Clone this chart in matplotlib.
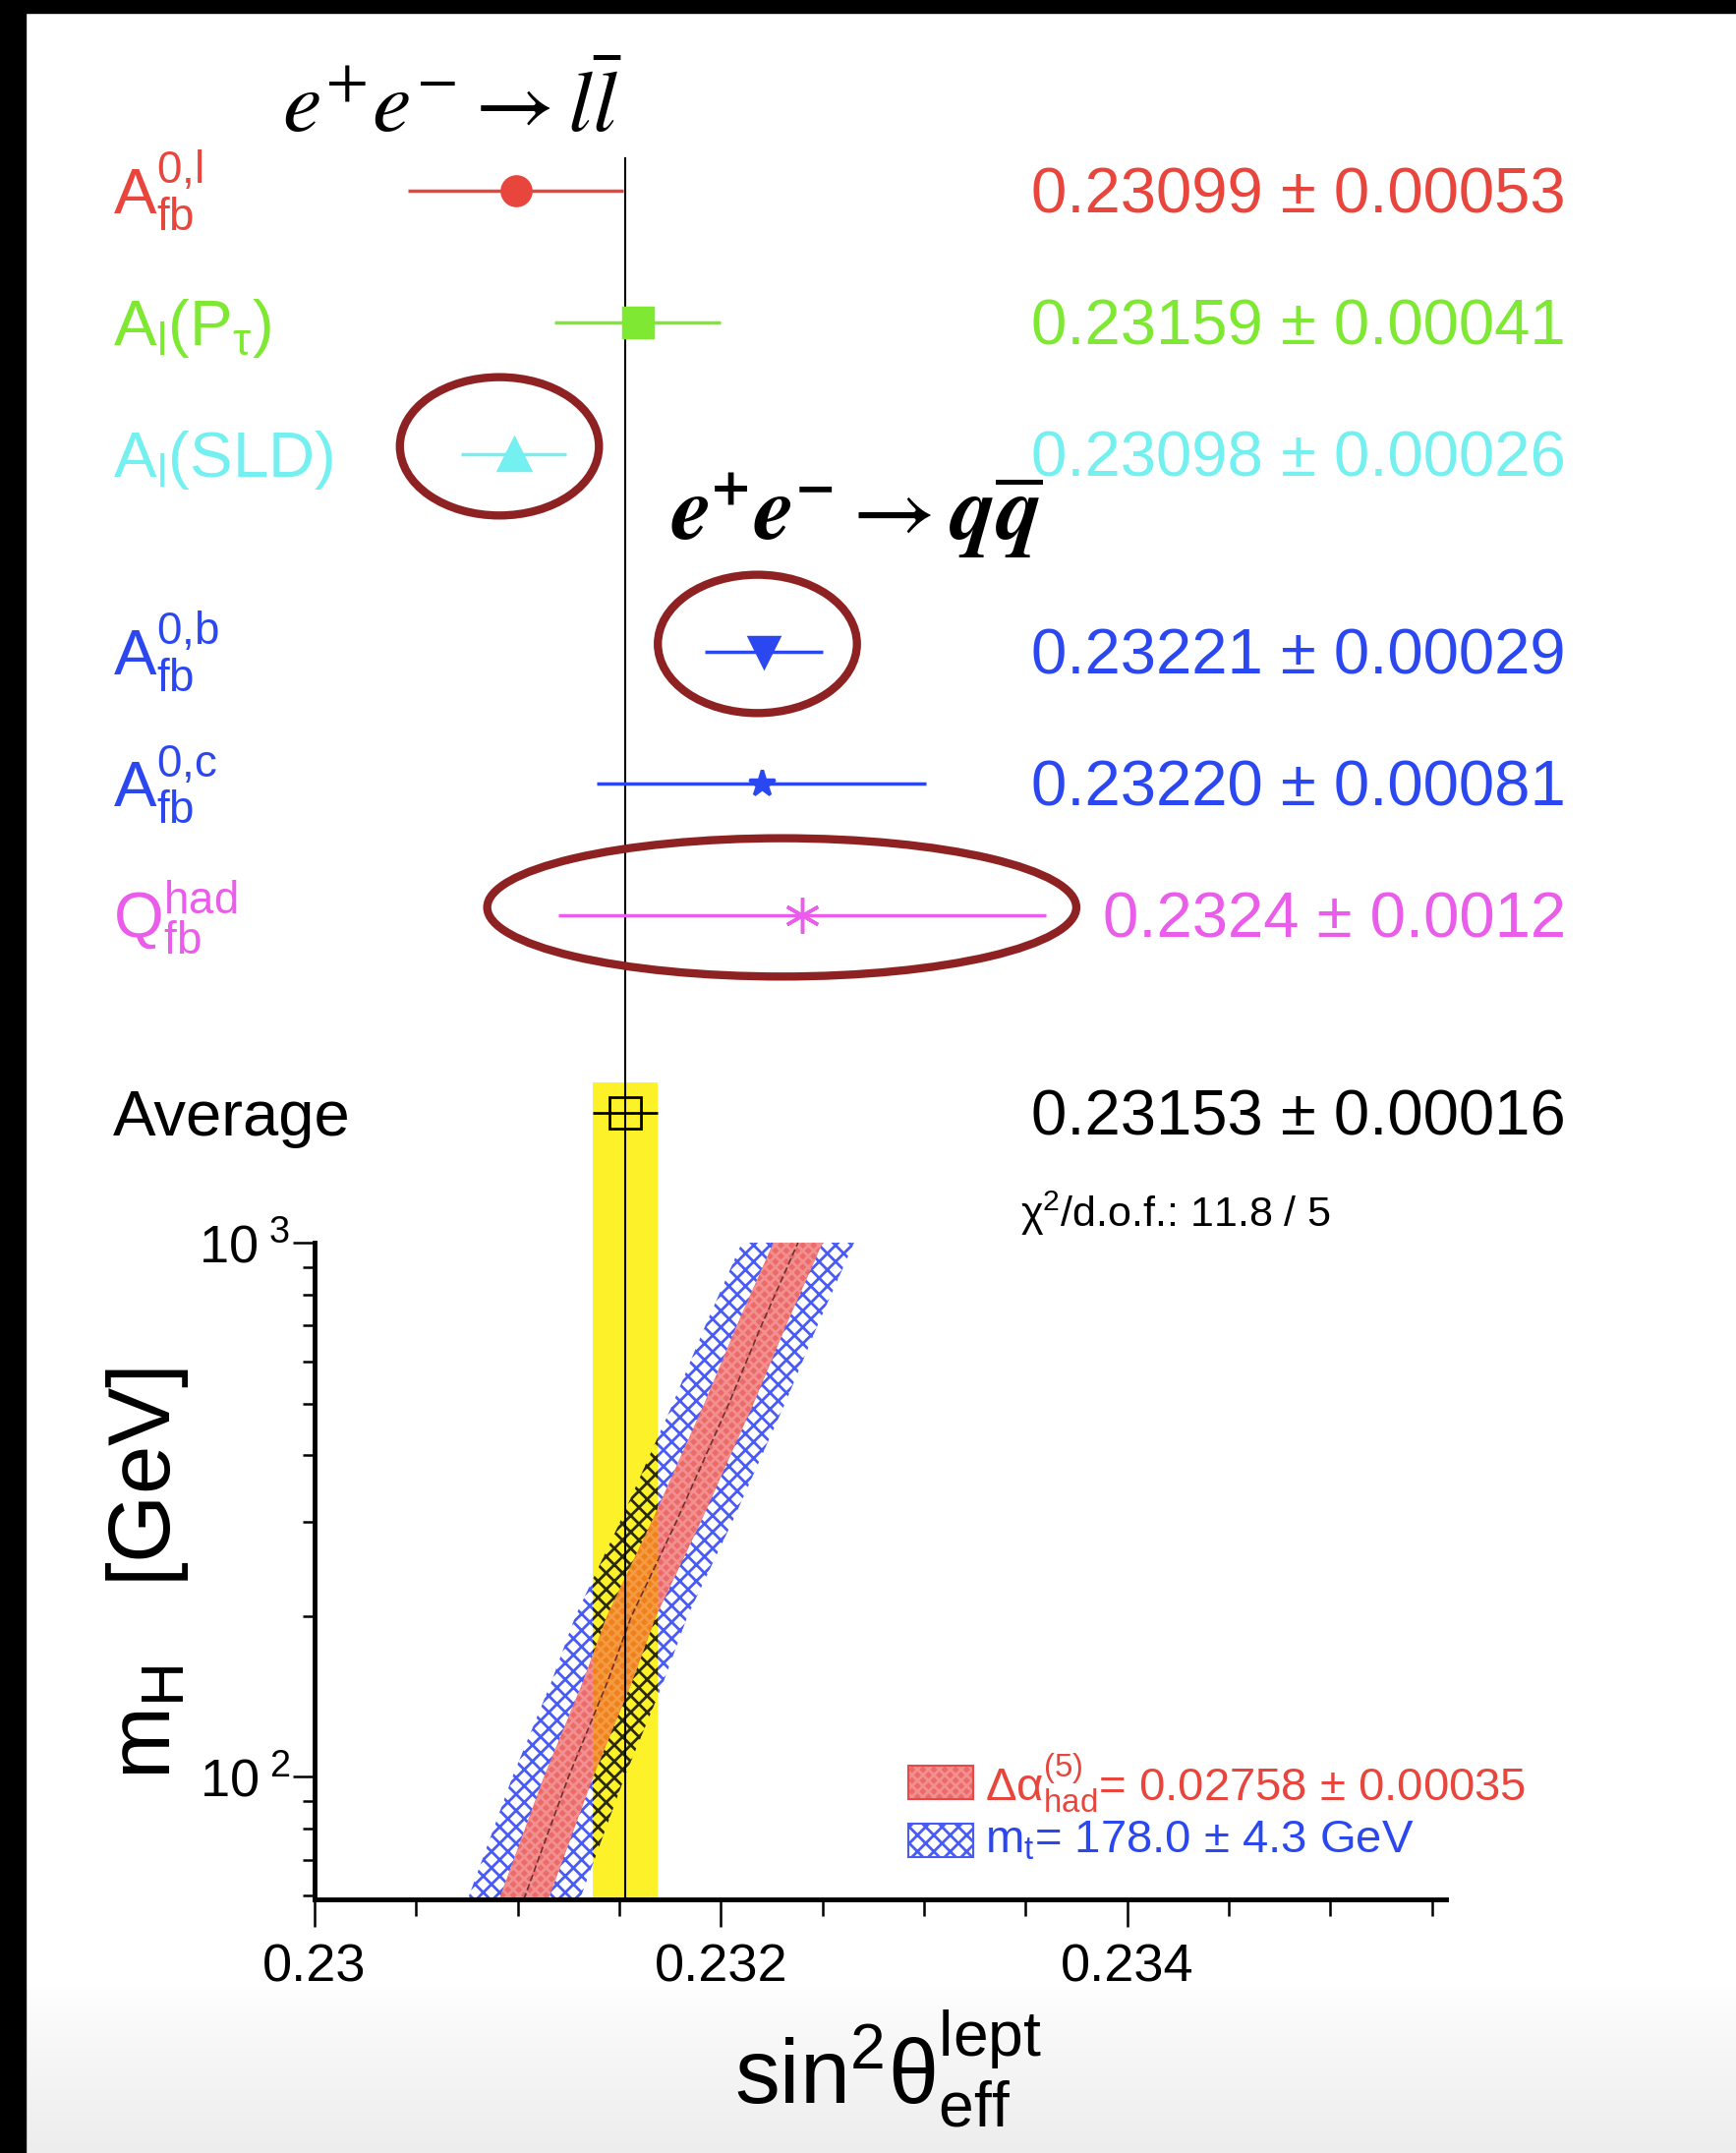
import numpy as np
import matplotlib
matplotlib.use('Agg')
import matplotlib.pyplot as plt
from matplotlib import font_manager, transforms
from matplotlib.patches import Ellipse, Rectangle
from matplotlib.ticker import FixedLocator, FixedFormatter, MultipleLocator, NullFormatter

installed = {f.name for f in font_manager.fontManager.ttflist}
narrow = 'Liberation Sans Narrow' if 'Liberation Sans Narrow' in installed else 'Liberation Sans'

plt.rcParams['font.family'] = [narrow, 'DejaVu Sans']
plt.rcParams['mathtext.fontset'] = 'custom'
plt.rcParams['mathtext.rm'] = narrow
plt.rcParams['mathtext.it'] = narrow + ':italic'
plt.rcParams['mathtext.bf'] = narrow + ':bold'
plt.rcParams['hatch.linewidth'] = 2.0

# sin^2 theta_eff^lept from the asymmetries
labels = [r'$\mathregular{A_{fb}^{0{,}l}}$', r'$\mathregular{A_l(P_\tau)}$', r'$\mathregular{A_l(SLD)}$',
          r'$\mathregular{A_{fb}^{0{,}b}}$', r'$\mathregular{A_{fb}^{0{,}c}}$', r'$\mathregular{Q_{fb}^{had}}$']
values = [0.23099, 0.23159, 0.23098, 0.23221, 0.23220, 0.2324]
errors = [0.00053, 0.00041, 0.00026, 0.00029, 0.00081, 0.0012]
decimals = [5, 5, 5, 5, 5, 4]
avg_value = 0.23153
avg_error = 0.00016
chi2 = 11.8
ndof = 5

# SM prediction vs Higgs mass
mh = [59, 100, 150, 200, 300, 500, 700, 1000]
sin2_sm = [0.23103, 0.23125, 0.23144, 0.23156, 0.23178, 0.23204, 0.23220, 0.23238]
dalpha = 0.02758
dalpha_err = 0.00035
dalpha_shift = 0.000121
mtop = 178.0
mtop_err = 4.3
mtop_shift = 0.000276

colors = ['#e8453c', '#7ee832', '#74f0f0', '#2b48f0', '#2b48f0', '#ea5cea']
markers = ['o', 's', '^', 'v', '*', (6, 2, 0)]
msizes = [21, 22, 23, 22, 20, 26]
rows = [0, 1, 2, 3.5, 4.5, 5.5]
avg_row = 7
yellow = '#fdf22a'
ring = '#8e2121'
big = 47

W, H = 1766, 2190
fig = plt.figure(figsize=(W / 100, H / 100), dpi=100)

# background: grey fade at the bottom, black frame on top and left
bg = fig.add_axes([0, 0, 1, 1], zorder=-10)
shade = np.ones((H, 1))
fade = np.arange(H) > 2020
shade[fade, 0] = 1 - 0.07 * ((np.arange(H)[fade] - 2020) / (H - 2020)) ** 0.8
bg.imshow(np.repeat(shade[:, :, None], 3, axis=2), extent=[0, 1, 0, 1], aspect='auto')
bg.axis('off')
fig.add_artist(Rectangle((0, 1 - 13 / H), 1, 13 / H, transform=fig.transFigure, color='black', zorder=20))
fig.add_artist(Rectangle((0, 0), 26 / W, 1, transform=fig.transFigure, color='black', zorder=20))

xmin, xmax = 0.23, 0.23557
ax = fig.add_axes([320 / W, 1 - 1932 / H, 1151 / W, 668 / H])
top = fig.add_axes([320 / W, 1 - 1264 / H, 1151 / W, 1264 / H])
top.patch.set_alpha(0)
top.axis('off')
top.set_xlim(xmin, xmax)
ytop, ybot = -1.448, 7.985
top.set_ylim(ybot, ytop)
tf = transforms.blended_transform_factory(fig.transFigure, top.transData)

# measurements
for i in range(len(values)):
    top.errorbar(values[i], rows[i], xerr=errors[i], fmt='none', ecolor=colors[i], elinewidth=2.5, zorder=3)
    top.plot(values[i], rows[i], marker=markers[i], ms=msizes[i], color=colors[i],
             mec=colors[i], mew=2.5, zorder=4)
    top.text(115 / W, rows[i] + 0.17, labels[i], transform=tf, color=colors[i], fontsize=big, va='baseline')
    d = decimals[i]
    top.text(1593 / W, rows[i] + 0.17, f'{values[i]:.{d}f} ± {errors[i]:.{d}f}', transform=tf,
             color=colors[i], fontsize=big, va='baseline', ha='right')

# average with its band
top.axvspan(avg_value - avg_error, avg_value + avg_error, ymin=0, ymax=(ybot - 6.77) / (ybot - ytop),
            color=yellow, lw=0, zorder=1)
top.axvline(avg_value, ymin=0, ymax=(ybot + 0.25) / (ybot - ytop), color='black', lw=1.5, zorder=2)
top.errorbar(avg_value, avg_row, xerr=avg_error, fmt='none', ecolor='black', elinewidth=2, zorder=3)
top.plot(avg_value, avg_row, marker='s', ms=23, mfc='none', mec='black', mew=2, zorder=4)
top.text(115 / W, avg_row + 0.17, 'Average', transform=tf, fontsize=big, va='baseline')
top.text(1593 / W, avg_row + 0.17, f'{avg_value:.5f} ± {avg_error:.5f}', transform=tf,
         fontsize=big, va='baseline', ha='right')
top.text(1038 / W, 7.866, r'$\mathregular{\chi^2}$/d.o.f.: ' + f'{chi2:.1f} / {ndof}', transform=tf,
         fontsize=31, va='baseline')

# rings around the disputed measurements
for i, dx, w in [(2, -0.00007, 0.00098), (3, -0.00003, 0.00098), (5, -0.0001, 0.0029)]:
    top.add_patch(Ellipse((values[i] + dx, rows[i] - 0.06), w, 1.05, fill=False,
                          edgecolor=ring, lw=6, zorder=5))

top.text(287 / W, -0.448, r'$e^{+}e^{-} \rightarrow l\bar{l}$', transform=tf, fontsize=64,
         math_fontfamily='stix', va='baseline')
top.text(682 / W, 2.649, r'$\mathbfit{e^{+}e^{-}} \rightarrow \mathbfit{q}\overline{\mathbfit{q}}$',
         transform=tf, fontsize=67, math_fontfamily='stix', va='baseline')

# SM bands in the lower panel
c = np.array(sin2_sm)
ylw = ax.axvspan(avg_value - avg_error, avg_value + avg_error, color=yellow, lw=0, zorder=1)
ax.fill_betweenx(mh, c - mtop_shift, c + mtop_shift, facecolor='none', edgecolor='#4a5af5',
                 hatch='xx', lw=0, zorder=2)
ax.fill_betweenx(mh, c - dalpha_shift, c + dalpha_shift, facecolor='#ec6a6a', edgecolor='#f29090',
                 hatch='xxx', lw=0, zorder=3)
dark = ax.fill_betweenx(mh, c - mtop_shift, c + mtop_shift, facecolor=yellow, edgecolor='#2a2a08',
                        hatch='xx', lw=0, zorder=4)
dark.set_clip_path(ylw)
orange = ax.fill_betweenx(mh, c - dalpha_shift, c + dalpha_shift, facecolor='#f0801c',
                          edgecolor='#f49a40', hatch='xxx', lw=0, zorder=5)
orange.set_clip_path(ylw)
ax.plot(c, mh, color='#6a3030', lw=1.2, ls=(0, (4, 2)), zorder=6)
ax.axvline(avg_value, color='black', lw=1.5, zorder=7)

ax.set_yscale('log')
ax.set_xlim(xmin, xmax)
ax.set_ylim(59, 1000)
for s in ['top', 'right']:
    ax.spines[s].set_visible(False)
for s in ['left', 'bottom']:
    ax.spines[s].set_linewidth(3.5)
    ax.spines[s].set_zorder(8)
ax.patch.set_alpha(0)

ax.xaxis.set_major_locator(FixedLocator([0.23, 0.232, 0.234]))
ax.xaxis.set_major_formatter(FixedFormatter(['0.23', '0.232', '0.234']))
ax.xaxis.set_minor_locator(MultipleLocator(0.0005))
ax.yaxis.set_major_locator(FixedLocator([100, 1000]))
ax.yaxis.set_major_formatter(FixedFormatter([r'$\mathregular{10^{\ 2}}$', r'$\mathregular{10^{\ 3}}$']))
ax.yaxis.set_minor_locator(FixedLocator([60, 70, 80, 90, 200, 300, 400, 500, 600, 700, 800, 900]))
ax.yaxis.set_minor_formatter(NullFormatter())
ax.tick_params(axis='x', which='major', direction='out', length=20, width=1.8, labelsize=39, pad=12)
ax.tick_params(axis='x', which='minor', direction='out', length=12, width=1.8)
ax.tick_params(axis='y', which='major', direction='out', length=16, width=1.8, labelsize=39, pad=2)
ax.tick_params(axis='y', which='minor', direction='out', length=9, width=1.8)

# legend for the two bands
ax.add_patch(Rectangle((0.5248, 0.1527), 0.0573, 0.0509, transform=ax.transAxes, facecolor='#ec6a6a',
                       edgecolor='#f29090', hatch='xxx', lw=0, zorder=9))
ax.add_patch(Rectangle((0.5248, 0.1527), 0.0573, 0.0509, transform=ax.transAxes, fill=False,
                       edgecolor='#e84848', lw=1.5, zorder=10))
ax.add_patch(Rectangle((0.5248, 0.0644), 0.0573, 0.0509, transform=ax.transAxes, facecolor='white',
                       edgecolor='#4a5af5', hatch='xx', lw=1.5, zorder=9))
ax.text(0.5925, 0.178, r'$\mathregular{\Delta\alpha^{(5)}_{had}}$' + f'= {dalpha:.5f} ± {dalpha_err:.5f}',
        transform=ax.transAxes, color='#e8453c', fontsize=34, va='center')
ax.text(0.5925, 0.0898, r'$\mathregular{m_t}$' + f'= {mtop:.1f} ± {mtop_err:.1f} GeV',
        transform=ax.transAxes, color='#2b48f0', fontsize=34, va='center')

fig.text(903 / W, 1 - 2140 / H, r'$\mathregular{sin^2\theta^{lept}_{eff}}$', ha='center', va='baseline',
         fontsize=66)
fig.text(150 / W, 1 - 1600 / H, r'$\mathregular{m_H}$   [GeV]', rotation=90, ha='center', va='center',
         fontsize=64)

fig.savefig('out.png', dpi=100)
